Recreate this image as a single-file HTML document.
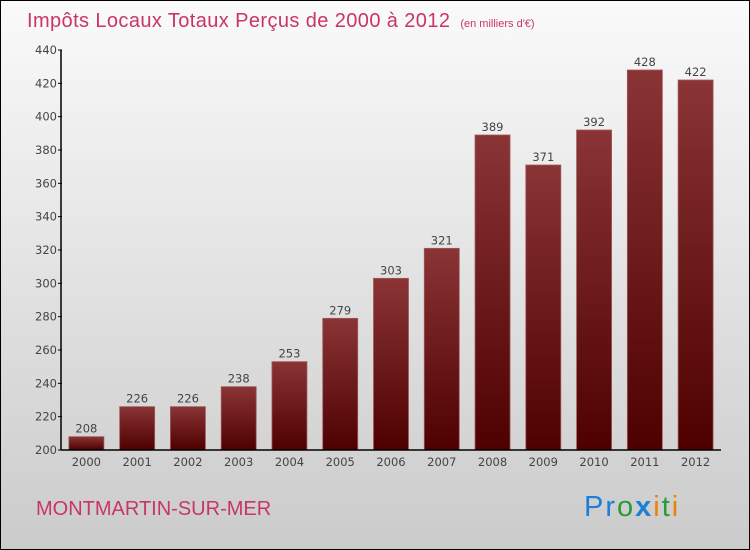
<!DOCTYPE html>
<html><head><meta charset="utf-8"><style>
body{margin:0}
#c{position:relative;width:748px;height:548px;border:1px solid #000;background:linear-gradient(#fafafa,#cbcbcb);font-family:"DejaVu Sans","Liberation Sans",sans-serif;overflow:hidden}
</style></head><body>
<div id="c">
<svg id="s" width="748" height="548">
<defs><linearGradient id="g" x1="0" y1="0" x2="0" y2="1"><stop offset="0" stop-color="#8a3436"/><stop offset="1" stop-color="#4e0000"/></linearGradient></defs>
<text x="26" y="26" font-size="20" letter-spacing="0.4" fill="#c8356a" font-family="Liberation Sans, sans-serif">Impôts Locaux Totaux Perçus de 2000 à 2012 <tspan font-size="11" dx="4" letter-spacing="0">(en milliers d'€)</tspan></text>
<text x="35" y="514" font-size="20" fill="#c8356a" font-family="Liberation Sans, sans-serif">MONTMARTIN-SUR-MER</text>
<text x="583" y="515" font-size="29" letter-spacing="2" font-family="Liberation Sans, sans-serif"><tspan fill="#1c7fd6">Pr</tspan><tspan fill="#2a9a3a">o</tspan><tspan fill="#1c7fd6" font-weight="bold">x</tspan><tspan fill="#f07f0a">i</tspan><tspan fill="#2a9a3a">t</tspan><tspan fill="#f07f0a">i</tspan></text>
</svg></div>
<script>
const years=["2000","2001","2002","2003","2004","2005","2006","2007","2008","2009","2010","2011","2012"];
const values=[208,226,226,238,253,279,303,321,389,371,392,428,422];
const yTicks=[200,220,240,260,280,300,320,340,360,380,400,420,440];
const s=document.getElementById('s');const NS='http://www.w3.org/2000/svg';
const x0=60,x1=720,yb=449,yt=49,vmin=200,vmax=440;
const band=(x1-x0)/years.length;
const y=v=>yb-(v-vmin)/(vmax-vmin)*(yb-yt);
const xc=i=>x0+band*(i+0.5);
function mk(t,a,txt){const e=document.createElementNS(NS,t);for(const k in a)e.setAttribute(k,a[k]);if(txt!==undefined)e.textContent=txt;s.appendChild(e);return e;}
values.forEach((v,i)=>{
const r=mk('rect',{x:xc(i)-17.5,y:y(v),width:35,height:yb-y(v),fill:'url(#g)',stroke:'#a05a5a','stroke-width':0.8});


const t=mk('text',{x:xc(i),y:y(v)-4,'font-size':11.5,fill:'#444','text-anchor':'middle'},v);


const xl=mk('text',{x:xc(i),y:yb+16,'font-size':11.5,fill:'#444','text-anchor':'middle'},years[i]);


});
yTicks.forEach(v=>{
const tk=mk('line',{x1:x0-3,x2:x0+1,y1:y(v),y2:y(v),stroke:'#000'});


const tl=mk('text',{x:x0-4,y:y(v)+4,'font-size':11.5,fill:'#444','text-anchor':'end'},v);


});
const ya=mk('line',{x1:x0,x2:x0,y1:yt,y2:yb,stroke:'#000','stroke-width':1.5});


const xa=mk('line',{x1:x0,x2:x1,y1:yb,y2:yb,stroke:'#000','stroke-width':1.5});


</script>
</body></html>
